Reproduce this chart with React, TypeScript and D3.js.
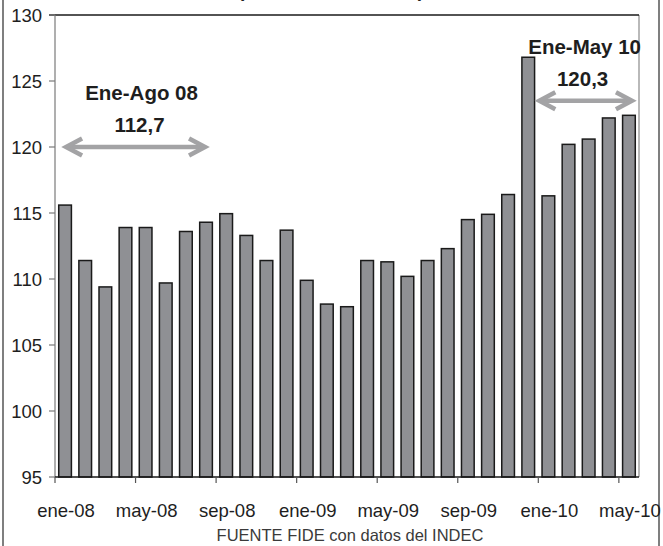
import React from "react";
import * as d3 from "d3";

const months: string[] = [
  "ene-08", "feb-08", "mar-08", "abr-08", "may-08", "jun-08", "jul-08", "ago-08", "sep-08", "oct-08", "nov-08", "dic-08",
  "ene-09", "feb-09", "mar-09", "abr-09", "may-09", "jun-09", "jul-09", "ago-09", "sep-09", "oct-09", "nov-09", "dic-09",
  "ene-10", "feb-10", "mar-10", "abr-10", "may-10",
];
const values: number[] = [
  115.6, 111.4, 109.4, 113.9, 113.9, 109.7, 113.6, 114.3, 114.95, 113.3, 111.4, 113.7,
  109.9, 108.1, 107.9, 111.4, 111.3, 110.2, 111.4, 112.3, 114.5, 114.9, 116.4, 126.8,
  116.3, 120.2, 120.6, 122.2, 122.4,
];
const yTicks: number[] = [95, 100, 105, 110, 115, 120, 125, 130];
const xTickLabels: string[] = ["ene-08", "may-08", "sep-08", "ene-09", "may-09", "sep-09", "ene-10", "may-10"];

const annotations = [
  { title: "Ene-Ago 08", value: "112,7", from: 0.5, to: 7.5, level: 120 },
  { title: "Ene-May 10", value: "120,3", from: 24.0, to: 28.7, level: 123.5 },
];

const W = 663;
const H = 546;
const left = 55;
const right = 639;
const top = 15;
const bottom = 477;
const FONT = "'Liberation Sans', Arial, sans-serif";

export default function App() {
  const x = d3.scaleBand<string>().domain(months).range([left, right]).paddingInner(0.37).paddingOuter(0.185);
  const y = d3.scaleLinear().domain([95, 130]).range([bottom, top]);
  const idx = d3.scaleLinear().domain([0, months.length]).range([left, right]);
  const step = x.step();
  const bw = x.bandwidth();

  const arrowColor = "#a3a3a5";

  return (
    <svg width={W} height={H} style={{ position: "absolute", left: 0, top: 0, background: "#fff" }} fontFamily={FONT}>
      <rect x={0} y={0} width={W} height={H} fill="#fff" />
      {/* outer frame */}
      <line x1={3} y1={0} x2={3} y2={H} stroke="#555" strokeWidth={1.5} />
      <line x1={659} y1={0} x2={659} y2={H} stroke="#555" strokeWidth={1.5} />
      {/* cut-off title */}
      <text x={331} y={-3} textAnchor="middle" fontSize={18} fontWeight="bold" fill="#222" textLength={186} lengthAdjust="spacingAndGlyphs">
        (desestacionalizado)
      </text>

      {/* plot frame */}
      <line x1={right} y1={top} x2={right} y2={bottom} stroke="#8a8a8a" strokeWidth={1.2} />
      <line x1={left - 6} y1={top} x2={right} y2={top} stroke="#1a1a1a" strokeWidth={1.5} />

      {/* bars */}
      {months.map((m, i) => (
        <rect
          key={m}
          x={x(m)!}
          y={y(values[i])}
          width={bw}
          height={bottom - y(values[i])}
          fill="#8f9094"
          stroke="#1a1a1a"
          strokeWidth={1.5}
        />
      ))}

      {/* y axis */}
      <line x1={left} y1={top} x2={left} y2={bottom} stroke="#7a7a7a" strokeWidth={1.2} />
      {yTicks.map((t) => (
        <g key={t}>
          <line x1={left - 6} y1={y(t)} x2={left} y2={y(t)} stroke="#7a7a7a" strokeWidth={1.2} />
          <text x={42} y={y(t) + 6.5} textAnchor="end" fontSize={18.5} fill="#1e1e1e">
            {t}
          </text>
        </g>
      ))}

      {/* x axis */}
      <line x1={left} y1={bottom} x2={right} y2={bottom} stroke="#1a1a1a" strokeWidth={1.5} />
      {xTickLabels.map((lab) => {
        const i = months.indexOf(lab);
        const bx = left + i * step;
        return (
          <g key={lab}>
            <line x1={bx} y1={bottom} x2={bx} y2={bottom + 6} stroke="#555" strokeWidth={1.2} />
            <text x={x(lab)! + bw / 2 + 1} y={516.5} textAnchor="middle" fontSize={18.5} fill="#1e1e1e">
              {lab}
            </text>
          </g>
        );
      })}

      {/* annotations */}
      {annotations.map((a, k) => {
        const x1 = idx(a.from);
        const x2 = idx(a.to);
        const ay = y(a.level);
        const cx = k === 0 ? (x1 + x2) / 2 + 6 : (x1 + x2) / 2 - 1;
        const hl = 17;
        const hh = 8.5;
        return (
          <g key={a.title}>
            <line x1={x1 + 2} y1={ay} x2={x2 - 2} y2={ay} stroke={arrowColor} strokeWidth={4.5} />
            <path
              d={`M${x1 + hl},${ay - hh} L${x1 + 1},${ay} L${x1 + hl},${ay + hh}`}
              fill="none"
              stroke={arrowColor}
              strokeWidth={4.5}
              strokeLinejoin="miter"
            />
            <path
              d={`M${x2 - hl},${ay - hh} L${x2 - 1},${ay} L${x2 - hl},${ay + hh}`}
              fill="none"
              stroke={arrowColor}
              strokeWidth={4.5}
              strokeLinejoin="miter"
            />
            <text x={cx} y={ay - 47} textAnchor="middle" fontSize={20.5} fontWeight="bold" fill="#1e1e1e">
              {a.title}
            </text>
            <text x={cx - 2} y={ay - 15} textAnchor="middle" fontSize={20.5} fontWeight="bold" fill="#1e1e1e">
              {a.value}
            </text>
          </g>
        );
      })}

      {/* source */}
      <text x={350} y={540.5} textAnchor="middle" fontSize={16.5} fill="#3a3a3a">
        FUENTE FIDE con datos del INDEC
      </text>
    </svg>
  );
}
